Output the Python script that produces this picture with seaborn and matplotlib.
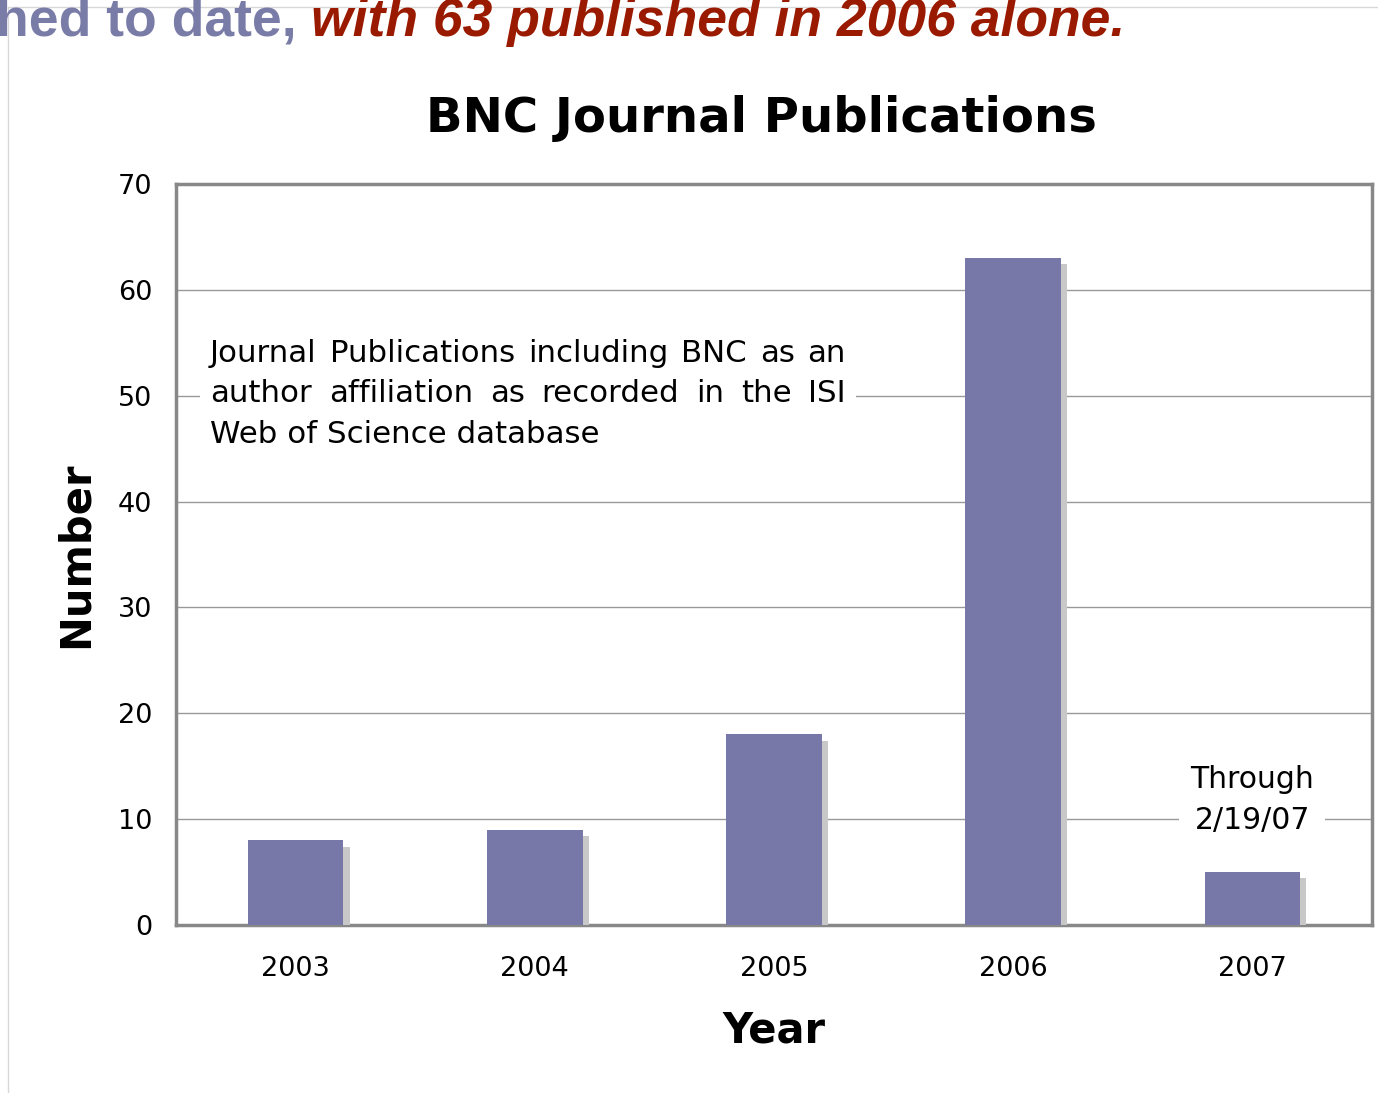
import matplotlib
matplotlib.use('Agg')
import matplotlib.pyplot as plt
import matplotlib.patheffects as pe
from matplotlib.lines import Line2D
from matplotlib.patches import Rectangle
import seaborn as sns
import pandas as pd

years = ['2003', '2004', '2005', '2006', '2007']
pubs = [8, 9, 18, 63, 5]
y_ticks = [0, 10, 20, 30, 40, 50, 60, 70]
note_lines = ['Journal Publications including BNC as an',
              'author affiliation as recorded in the ISI',
              'Web of Science database']

df = pd.DataFrame({'Year': years, 'Number': pubs})

sns.set_theme(style='white')
plt.rcParams['font.family'] = ['DejaVu Sans']
plt.rcParams['text.color'] = 'black'
plt.rcParams['axes.labelcolor'] = 'black'
plt.rcParams['xtick.labelcolor'] = 'black'
plt.rcParams['ytick.labelcolor'] = 'black'

W, H = 1378, 1093
fig = plt.figure(figsize=(W / 100, H / 100), dpi=100)
ax = fig.add_axes([176 / W, 1 - 925 / H, 1196 / W, 741 / H])

bar_color = '#7878a8'
sns.barplot(data=df, x='Year', y='Number', color=bar_color, width=0.40,
            saturation=1, ax=ax, zorder=3)
for p in ax.patches:
    p.set_linewidth(0)
    p.set_path_effects([pe.SimplePatchShadow(offset=(4.5, -4.5), shadow_rgbFace='#c8c8c8', alpha=1),
                        pe.Normal()])

ax.set_ylim(0, 70)
ax.set_xlim(-0.5, 4.5)
ax.set_yticks(y_ticks)
ax.set_yticklabels([str(t) for t in y_ticks], fontsize=19.5)
ax.set_xticks(range(len(years)))
ax.set_xticklabels(years, fontsize=19.5)
ax.set_xticks([i - 0.5 for i in range(len(years) + 1)], minor=True)
ax.tick_params(axis='x', which='major', length=0, pad=22)
ax.tick_params(axis='x', which='minor', length=8, width=1, color='#888888', direction='out')
ax.tick_params(axis='y', which='major', length=8, width=1, color='#888888', direction='out', pad=9)

ax.yaxis.grid(True, color='#999999', linewidth=1, zorder=0)
ax.set_axisbelow(True)
for s in ax.spines.values():
    s.set_color('#888888')
    s.set_linewidth(2.5)

ax.set_xlabel('Year', fontsize=30, fontweight='bold', labelpad=20)
ax.set_ylabel('Number', fontsize=30, fontweight='bold', labelpad=15)

fig.text(761 / W, 1 - 118 / H, 'BNC Journal Publications', fontsize=34.7,
         fontweight='bold', ha='center', va='center')

# note box (white background hides the gridline), justified lines
fig.add_artist(Rectangle((200 / W, 1 - 458 / H), 656 / W, 128 / H, transform=fig.transFigure,
                         facecolor='white', edgecolor='none', zorder=2.5))
fig.canvas.draw()
rend = fig.canvas.get_renderer()
x0, x1 = 210, 846
baselines = [362, 402, 443]
note_size = 22.2
for i, line in enumerate(note_lines):
    yb = 1 - baselines[i] / H
    words = line.split(' ')
    if i == len(note_lines) - 1:
        fig.text(x0 / W, yb, line, fontsize=note_size, ha='left', va='baseline', zorder=3)
        continue
    tmp = [fig.text(0, 0, w, fontsize=note_size) for w in words]
    widths = [t.get_window_extent(rend).width for t in tmp]
    for t in tmp:
        t.remove()
    gap = (x1 - x0 - sum(widths)) / (len(words) - 1)
    x = x0
    for w, wd in zip(words, widths):
        fig.text(x / W, yb, w, fontsize=note_size, ha='left', va='baseline', zorder=3)
        x += wd + gap

ax.text(4.0, 11.8, 'Through\n2/19/07', fontsize=21.5, ha='center', va='center',
        linespacing=1.55, bbox=dict(facecolor='white', edgecolor='none', pad=8), zorder=4)

# slide header fragment and frame lines
fig.add_artist(Line2D([8 / W, 1], [1 - 7 / H, 1 - 7 / H], color='#d8d8d8', linewidth=1))
fig.add_artist(Line2D([8 / W, 8 / W], [0, 1 - 7 / H], color='#d8d8d8', linewidth=1))
t1 = fig.text(-0.003, 1 - 36 / H, 'hed to date, ', fontsize=38.5, fontweight='bold',
              color='#7a7ca8', family=['Liberation Sans Narrow', 'Liberation Sans'],
              ha='left', va='baseline')
bb = t1.get_window_extent(rend)
fig.text(bb.x1 / W, 1 - 36 / H, 'with 63 published in 2006 alone.', fontsize=38.5,
         fontweight='bold', style='italic', color='#9a1a00',
         family=['Liberation Sans Narrow', 'Liberation Sans'], ha='left', va='baseline')

fig.savefig('out.png', dpi=100)
